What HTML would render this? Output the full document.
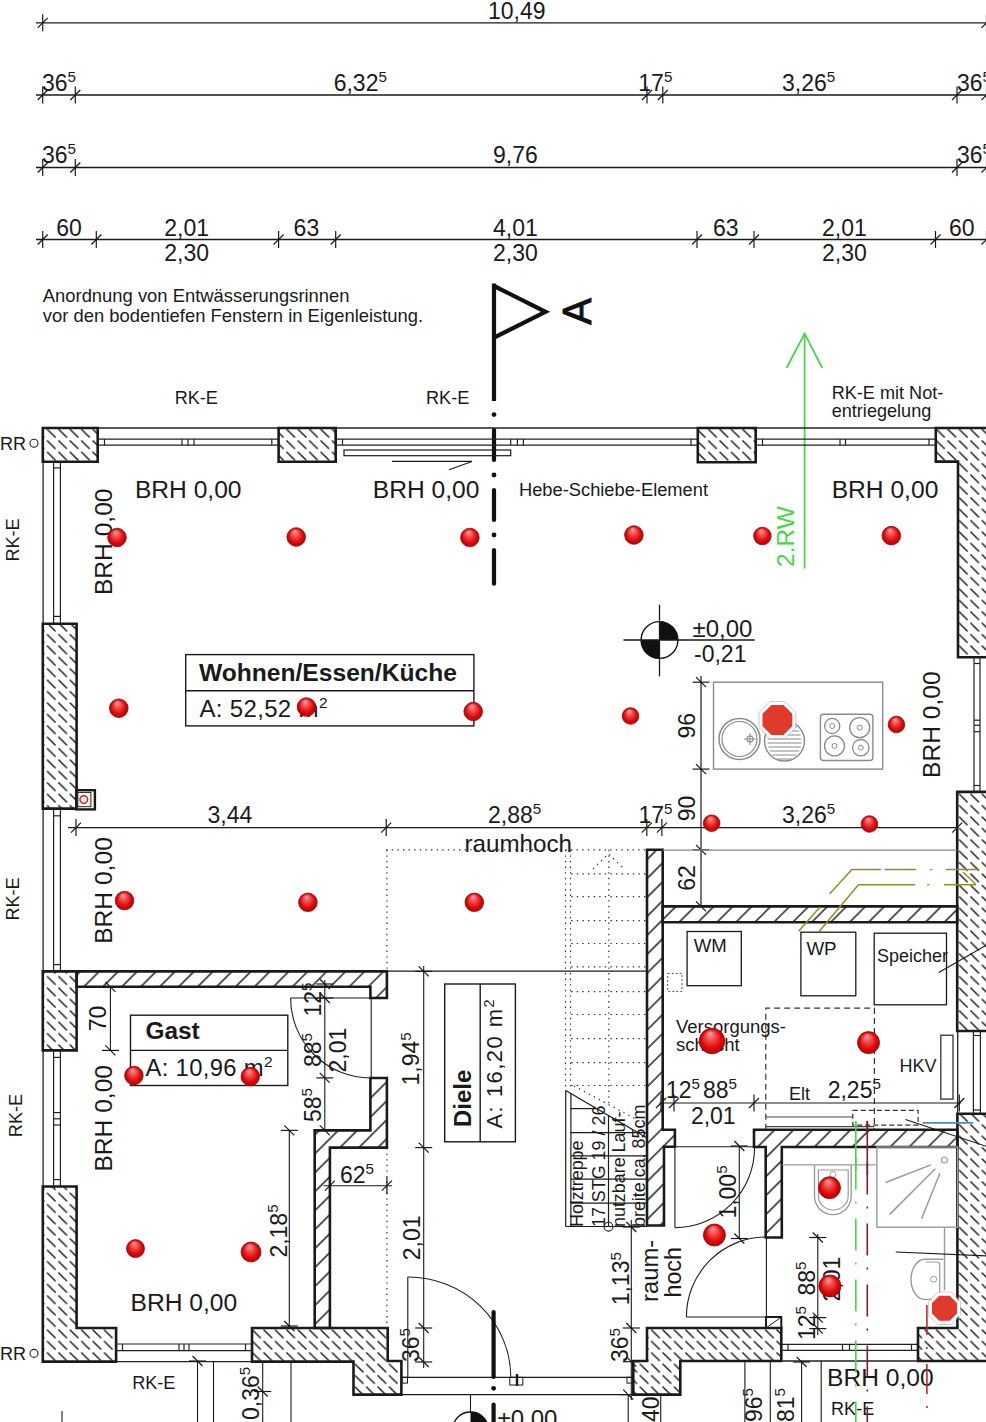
<!DOCTYPE html>
<html><head><meta charset="utf-8"><style>
html,body{margin:0;padding:0;background:#fff;width:986px;height:1422px;overflow:hidden}
svg{display:block}
text{font-family:"Liberation Sans",sans-serif}
</style></head><body>
<svg width="986" height="1422" viewBox="0 0 986 1422">
<defs>
<pattern id="hA" patternUnits="userSpaceOnUse" width="11.4" height="11.4" x="0" y="5.8">
<line x1="1.4" y1="1.4" x2="10" y2="10" stroke="#1a1a1a" stroke-width="1.45"/></pattern>
<pattern id="hB" patternUnits="userSpaceOnUse" width="13.4" height="20" patternTransform="rotate(45)">
<line x1="6.7" y1="0" x2="6.7" y2="20" stroke="#1a1a1a" stroke-width="1.45"/></pattern>
<radialGradient id="rg" cx="0.5" cy="0.5" r="0.5" fx="0.42" fy="0.18">
<stop offset="0" stop-color="#f7a3aa"/><stop offset="0.4" stop-color="#f04848"/><stop offset="0.75" stop-color="#e00808"/><stop offset="1" stop-color="#b80000"/></radialGradient>
</defs>
<line x1="36" y1="22.8" x2="990" y2="22.8" stroke="#1a1a1a" stroke-width="1.3" />
<line x1="36" y1="95" x2="990" y2="95" stroke="#1a1a1a" stroke-width="1.3" />
<line x1="36" y1="167.5" x2="990" y2="167.5" stroke="#1a1a1a" stroke-width="1.3" />
<line x1="36" y1="239.5" x2="990" y2="239.5" stroke="#1a1a1a" stroke-width="1.3" />
<line x1="42.7" y1="14.3" x2="42.7" y2="31.3" stroke="#1a1a1a" stroke-width="1.2" />
<line x1="37.7" y1="27.8" x2="47.7" y2="17.8" stroke="#1a1a1a" stroke-width="1.2" />
<text x="488" y="18.5" font-size="23" text-anchor="start" font-weight="normal" fill="#1a1a1a" >10,49</text>
<line x1="42.7" y1="86.5" x2="42.7" y2="103.5" stroke="#1a1a1a" stroke-width="1.2" />
<line x1="37.7" y1="100" x2="47.7" y2="90" stroke="#1a1a1a" stroke-width="1.2" />
<line x1="75.3" y1="86.5" x2="75.3" y2="103.5" stroke="#1a1a1a" stroke-width="1.2" />
<line x1="70.3" y1="100" x2="80.3" y2="90" stroke="#1a1a1a" stroke-width="1.2" />
<line x1="647" y1="86.5" x2="647" y2="103.5" stroke="#1a1a1a" stroke-width="1.2" />
<line x1="642" y1="100" x2="652" y2="90" stroke="#1a1a1a" stroke-width="1.2" />
<line x1="662.8" y1="86.5" x2="662.8" y2="103.5" stroke="#1a1a1a" stroke-width="1.2" />
<line x1="657.8" y1="100" x2="667.8" y2="90" stroke="#1a1a1a" stroke-width="1.2" />
<line x1="957" y1="86.5" x2="957" y2="103.5" stroke="#1a1a1a" stroke-width="1.2" />
<line x1="952" y1="100" x2="962" y2="90" stroke="#1a1a1a" stroke-width="1.2" />
<text x="42" y="90.7" font-size="23" text-anchor="start" font-weight="normal" fill="#1a1a1a" >36<tspan font-size="15.2" dy="-8.7">5</tspan></text>
<text x="333.7" y="90.7" font-size="23" text-anchor="start" font-weight="normal" fill="#1a1a1a" >6,32<tspan font-size="15.2" dy="-8.7">5</tspan></text>
<text x="638.3" y="90.7" font-size="23" text-anchor="start" font-weight="normal" fill="#1a1a1a" >17<tspan font-size="15.2" dy="-8.7">5</tspan></text>
<text x="782" y="90.7" font-size="23" text-anchor="start" font-weight="normal" fill="#1a1a1a" >3,26<tspan font-size="15.2" dy="-8.7">5</tspan></text>
<text x="957" y="90.7" font-size="23" text-anchor="start" font-weight="normal" fill="#1a1a1a" >36<tspan font-size="15.2" dy="-8.7">5</tspan></text>
<line x1="42.7" y1="159.0" x2="42.7" y2="176.0" stroke="#1a1a1a" stroke-width="1.2" />
<line x1="37.7" y1="172.5" x2="47.7" y2="162.5" stroke="#1a1a1a" stroke-width="1.2" />
<line x1="75.3" y1="159.0" x2="75.3" y2="176.0" stroke="#1a1a1a" stroke-width="1.2" />
<line x1="70.3" y1="172.5" x2="80.3" y2="162.5" stroke="#1a1a1a" stroke-width="1.2" />
<line x1="957" y1="159.0" x2="957" y2="176.0" stroke="#1a1a1a" stroke-width="1.2" />
<line x1="952" y1="172.5" x2="962" y2="162.5" stroke="#1a1a1a" stroke-width="1.2" />
<text x="42" y="163" font-size="23" text-anchor="start" font-weight="normal" fill="#1a1a1a" >36<tspan font-size="15.2" dy="-8.7">5</tspan></text>
<text x="493" y="163" font-size="23" text-anchor="start" font-weight="normal" fill="#1a1a1a" >9,76</text>
<text x="957" y="163" font-size="23" text-anchor="start" font-weight="normal" fill="#1a1a1a" >36<tspan font-size="15.2" dy="-8.7">5</tspan></text>
<line x1="42.7" y1="231.0" x2="42.7" y2="248.0" stroke="#1a1a1a" stroke-width="1.2" />
<line x1="37.7" y1="244.5" x2="47.7" y2="234.5" stroke="#1a1a1a" stroke-width="1.2" />
<line x1="96.3" y1="231.0" x2="96.3" y2="248.0" stroke="#1a1a1a" stroke-width="1.2" />
<line x1="91.3" y1="244.5" x2="101.3" y2="234.5" stroke="#1a1a1a" stroke-width="1.2" />
<line x1="278.6" y1="231.0" x2="278.6" y2="248.0" stroke="#1a1a1a" stroke-width="1.2" />
<line x1="273.6" y1="244.5" x2="283.6" y2="234.5" stroke="#1a1a1a" stroke-width="1.2" />
<line x1="335.7" y1="231.0" x2="335.7" y2="248.0" stroke="#1a1a1a" stroke-width="1.2" />
<line x1="330.7" y1="244.5" x2="340.7" y2="234.5" stroke="#1a1a1a" stroke-width="1.2" />
<line x1="697" y1="231.0" x2="697" y2="248.0" stroke="#1a1a1a" stroke-width="1.2" />
<line x1="692" y1="244.5" x2="702" y2="234.5" stroke="#1a1a1a" stroke-width="1.2" />
<line x1="754" y1="231.0" x2="754" y2="248.0" stroke="#1a1a1a" stroke-width="1.2" />
<line x1="749" y1="244.5" x2="759" y2="234.5" stroke="#1a1a1a" stroke-width="1.2" />
<line x1="935.5" y1="231.0" x2="935.5" y2="248.0" stroke="#1a1a1a" stroke-width="1.2" />
<line x1="930.5" y1="244.5" x2="940.5" y2="234.5" stroke="#1a1a1a" stroke-width="1.2" />
<text x="56.3" y="236.3" font-size="23" text-anchor="start" font-weight="normal" fill="#1a1a1a" >60</text>
<text x="164.3" y="236.3" font-size="23" text-anchor="start" font-weight="normal" fill="#1a1a1a" >2,01</text>
<text x="293.6" y="236.3" font-size="23" text-anchor="start" font-weight="normal" fill="#1a1a1a" >63</text>
<text x="493" y="236.3" font-size="23" text-anchor="start" font-weight="normal" fill="#1a1a1a" >4,01</text>
<text x="713" y="236.3" font-size="23" text-anchor="start" font-weight="normal" fill="#1a1a1a" >63</text>
<text x="822" y="236.3" font-size="23" text-anchor="start" font-weight="normal" fill="#1a1a1a" >2,01</text>
<text x="949" y="236.3" font-size="23" text-anchor="start" font-weight="normal" fill="#1a1a1a" >60</text>
<text x="164.3" y="260.8" font-size="23" text-anchor="start" font-weight="normal" fill="#1a1a1a" >2,30</text>
<text x="493" y="260.8" font-size="23" text-anchor="start" font-weight="normal" fill="#1a1a1a" >2,30</text>
<text x="822" y="260.8" font-size="23" text-anchor="start" font-weight="normal" fill="#1a1a1a" >2,30</text>
<line x1="986.5" y1="14.3" x2="986.5" y2="31.3" stroke="#1a1a1a" stroke-width="1.2" />
<line x1="981.5" y1="27.8" x2="991.5" y2="17.8" stroke="#1a1a1a" stroke-width="1.2" />
<line x1="986.5" y1="86.5" x2="986.5" y2="103.5" stroke="#1a1a1a" stroke-width="1.2" />
<line x1="981.5" y1="100" x2="991.5" y2="90" stroke="#1a1a1a" stroke-width="1.2" />
<line x1="986.5" y1="159.0" x2="986.5" y2="176.0" stroke="#1a1a1a" stroke-width="1.2" />
<line x1="981.5" y1="172.5" x2="991.5" y2="162.5" stroke="#1a1a1a" stroke-width="1.2" />
<line x1="986.5" y1="231.0" x2="986.5" y2="248.0" stroke="#1a1a1a" stroke-width="1.2" />
<line x1="981.5" y1="244.5" x2="991.5" y2="234.5" stroke="#1a1a1a" stroke-width="1.2" />
<text x="42.8" y="301.8" font-size="18.4" text-anchor="start" font-weight="normal" fill="#1a1a1a" >Anordnung von Entw&#228;sserungsrinnen</text>
<text x="42.8" y="321.9" font-size="18.4" text-anchor="start" font-weight="normal" fill="#1a1a1a" >vor den bodentiefen Fenstern in Eigenleistung.</text>
<text x="174.7" y="404" font-size="18.1" text-anchor="start" font-weight="normal" fill="#1a1a1a" >RK-E</text>
<text x="426" y="404" font-size="18.1" text-anchor="start" font-weight="normal" fill="#1a1a1a" >RK-E</text>
<text x="831.7" y="398.8" font-size="18.1" text-anchor="start" font-weight="normal" fill="#1a1a1a" >RK-E mit Not-</text>
<text x="831.7" y="417" font-size="18.1" text-anchor="start" font-weight="normal" fill="#1a1a1a" >entriegelung</text>
<path d="M494,286 L545.5,311.8 L494,337.6" fill="none" stroke="#111" stroke-width="4.2" stroke-linejoin="miter"/>
<line x1="494" y1="283.5" x2="494" y2="401" stroke="#111" stroke-width="4.2" stroke-linecap="butt"/>
<circle cx="494" cy="414.6" r="2.4" fill="#111"/>
<line x1="494" y1="430" x2="494" y2="460" stroke="#111" stroke-width="4.2" stroke-linecap="round"/>
<circle cx="494" cy="475" r="2.4" fill="#111"/>
<line x1="494" y1="490" x2="494" y2="520" stroke="#111" stroke-width="4.2" stroke-linecap="round"/>
<circle cx="494" cy="535" r="2.4" fill="#111"/>
<line x1="494" y1="550" x2="494" y2="583.7" stroke="#111" stroke-width="4.2" stroke-linecap="round"/>
<text x="577" y="311.5" font-size="40" text-anchor="middle" font-weight="normal" fill="#111" transform="rotate(-90 577 311.5)" dominant-baseline="central" stroke="#111" stroke-width="0.9">A</text>
<line x1="804.6" y1="333.6" x2="804.6" y2="568.6" stroke="#48d648" stroke-width="1.8" />
<polyline points="786.5,368 804.6,333.6 822.3,368" fill="none" stroke="#48d648" stroke-width="1.8" />
<text x="793.5" y="536.5" font-size="24.5" text-anchor="middle" font-weight="normal" fill="#48d648" transform="rotate(-90 793.5 536.5)" >2.RW</text>
<polygon points="42.8,428 97.7,428 97.7,461.8 42.8,461.8" fill="url(#hA)" stroke="#1a1a1a" stroke-width="2.6" stroke-linejoin="miter"/>
<polygon points="278.6,428 335.7,428 335.7,461.8 278.6,461.8" fill="url(#hA)" stroke="#1a1a1a" stroke-width="2.6" stroke-linejoin="miter"/>
<polygon points="697.8,428 755.7,428 755.7,462.2 697.8,462.2" fill="url(#hA)" stroke="#1a1a1a" stroke-width="2.6" stroke-linejoin="miter"/>
<polygon points="935.8,428 992,428 992,657.3 958,657.3 958,461.6 935.8,461.6" fill="url(#hA)" stroke="#1a1a1a" stroke-width="2.6" stroke-linejoin="miter"/>
<polygon points="42.8,623.8 76.6,623.8 76.6,808.6 42.8,808.6" fill="url(#hA)" stroke="#1a1a1a" stroke-width="2.6" stroke-linejoin="miter"/>
<polygon points="42.8,971.4 76.6,971.4 76.6,1050.4 42.8,1050.4" fill="url(#hA)" stroke="#1a1a1a" stroke-width="2.6" stroke-linejoin="miter"/>
<polygon points="42.8,1186.5 76.6,1186.5 76.6,1328 116.1,1328 116.1,1361.6 42.8,1361.6" fill="url(#hA)" stroke="#1a1a1a" stroke-width="2.6" stroke-linejoin="miter"/>
<polygon points="252,1328 387.7,1328 387.7,1361 401.4,1361 401.4,1394.6 353.5,1394.6 353.5,1361.6 252,1361.6" fill="url(#hA)" stroke="#1a1a1a" stroke-width="2.6" stroke-linejoin="miter"/>
<polygon points="647,1328 781.3,1328 781.3,1361 680.3,1361 680.3,1394.6 633.3,1394.6 633.3,1361 647,1361" fill="url(#hA)" stroke="#1a1a1a" stroke-width="2.6" stroke-linejoin="miter"/>
<polygon points="957.4,1113.8 992,1113.8 992,1361 918,1361 918,1328 957.4,1328" fill="url(#hA)" stroke="#1a1a1a" stroke-width="2.6" stroke-linejoin="miter"/>
<polygon points="957.2,791.9 992,791.9 992,1031 957.2,1031" fill="url(#hA)" stroke="#1a1a1a" stroke-width="2.6" stroke-linejoin="miter"/>
<rect x="76.3" y="790.2" width="18.6" height="19.2" fill="none" stroke="#1a1a1a" stroke-width="2.4" />
<rect x="77.8" y="792.4" width="13.1" height="14.3" fill="#fff0f0" stroke="#222" stroke-width="1.0"/>
<circle cx="83.8" cy="799.5" r="3.8" fill="#ffe8e0" stroke="#a03038" stroke-width="1.4"/>
<polygon points="76.6,971.4 386.9,971.4 386.9,998 370.4,998 370.4,986.8 76.6,986.8" fill="url(#hB)" stroke="#1a1a1a" stroke-width="2.6" stroke-linejoin="miter"/>
<polygon points="370.4,1078 386.9,1078 386.9,1147.6 329.9,1147.6 329.9,1328 314.7,1328 314.7,1130.4 370.4,1130.4" fill="url(#hB)" stroke="#1a1a1a" stroke-width="2.6" stroke-linejoin="miter"/>
<polygon points="647,849.8 662.7,849.8 662.7,1129.8 674.9,1129.8 674.9,1146.8 664,1146.8 664,1225.5 647,1225.5" fill="url(#hB)" stroke="#1a1a1a" stroke-width="2.6" stroke-linejoin="miter"/>
<polygon points="662.7,906.4 957.2,906.4 957.2,922.2 662.7,922.2" fill="url(#hB)" stroke="#1a1a1a" stroke-width="2.6" stroke-linejoin="miter"/>
<polygon points="754,1129.8 957.4,1129.8 957.4,1147 781.8,1147 781.8,1237.5 765.7,1237.5 765.7,1147 754,1147" fill="url(#hB)" stroke="#1a1a1a" stroke-width="2.6" stroke-linejoin="miter"/>
<rect x="766" y="1317" width="15.3" height="11" fill="none" stroke="#1a1a1a" stroke-width="2.0" />
<line x1="766" y1="1328" x2="781.3" y2="1317" stroke="#1a1a1a" stroke-width="1.0" />
<line x1="97.7" y1="428" x2="278.6" y2="428" stroke="#222" stroke-width="1.3" />
<line x1="97.7" y1="439.1" x2="278.6" y2="439.1" stroke="#222" stroke-width="1.2" />
<line x1="97.7" y1="445.2" x2="278.6" y2="445.2" stroke="#222" stroke-width="1.2" />
<line x1="104.5" y1="439.1" x2="104.5" y2="445.2" stroke="#222" stroke-width="1.2" />
<line x1="182" y1="439.1" x2="182" y2="445.2" stroke="#222" stroke-width="1.2" />
<line x1="188" y1="439.1" x2="188" y2="445.2" stroke="#222" stroke-width="1.2" />
<line x1="194" y1="439.1" x2="194" y2="445.2" stroke="#222" stroke-width="1.2" />
<line x1="271.8" y1="439.1" x2="271.8" y2="445.2" stroke="#222" stroke-width="1.2" />
<line x1="335.7" y1="428" x2="697.8" y2="428" stroke="#222" stroke-width="1.3" />
<line x1="335.7" y1="439.1" x2="697.8" y2="439.1" stroke="#222" stroke-width="1.2" />
<line x1="335.7" y1="445.2" x2="697.8" y2="445.2" stroke="#222" stroke-width="1.2" />
<line x1="342.5" y1="439.1" x2="342.5" y2="445.2" stroke="#222" stroke-width="1.2" />
<line x1="510.7" y1="439.1" x2="510.7" y2="445.2" stroke="#222" stroke-width="1.2" />
<line x1="517.4" y1="439.1" x2="517.4" y2="445.2" stroke="#222" stroke-width="1.2" />
<line x1="523.4" y1="439.1" x2="523.4" y2="445.2" stroke="#222" stroke-width="1.2" />
<line x1="691" y1="439.1" x2="691" y2="445.2" stroke="#222" stroke-width="1.2" />
<line x1="755.7" y1="428" x2="935.8" y2="428" stroke="#222" stroke-width="1.3" />
<line x1="755.7" y1="439.1" x2="935.8" y2="439.1" stroke="#222" stroke-width="1.2" />
<line x1="755.7" y1="445.2" x2="935.8" y2="445.2" stroke="#222" stroke-width="1.2" />
<line x1="762.5" y1="439.1" x2="762.5" y2="445.2" stroke="#222" stroke-width="1.2" />
<line x1="840" y1="439.1" x2="840" y2="445.2" stroke="#222" stroke-width="1.2" />
<line x1="845.5" y1="439.1" x2="845.5" y2="445.2" stroke="#222" stroke-width="1.2" />
<line x1="929" y1="439.1" x2="929" y2="445.2" stroke="#222" stroke-width="1.2" />
<line x1="43.1" y1="461.8" x2="43.1" y2="623.8" stroke="#222" stroke-width="1.3" />
<line x1="53.6" y1="461.8" x2="53.6" y2="623.8" stroke="#222" stroke-width="1.2" />
<line x1="60.4" y1="461.8" x2="60.4" y2="623.8" stroke="#222" stroke-width="1.2" />
<line x1="53.6" y1="467.9" x2="60.4" y2="467.9" stroke="#222" stroke-width="1.2" />
<line x1="53.6" y1="616.4" x2="60.4" y2="616.4" stroke="#222" stroke-width="1.2" />
<line x1="43.1" y1="808.6" x2="43.1" y2="971.4" stroke="#222" stroke-width="1.3" />
<line x1="53.6" y1="808.6" x2="53.6" y2="971.4" stroke="#222" stroke-width="1.2" />
<line x1="60.4" y1="808.6" x2="60.4" y2="971.4" stroke="#222" stroke-width="1.2" />
<line x1="53.6" y1="815.8" x2="60.4" y2="815.8" stroke="#222" stroke-width="1.2" />
<line x1="53.6" y1="964.6" x2="60.4" y2="964.6" stroke="#222" stroke-width="1.2" />
<line x1="43.1" y1="1050.4" x2="43.1" y2="1186.5" stroke="#222" stroke-width="1.3" />
<line x1="53.6" y1="1050.4" x2="53.6" y2="1186.5" stroke="#222" stroke-width="1.2" />
<line x1="60.4" y1="1050.4" x2="60.4" y2="1186.5" stroke="#222" stroke-width="1.2" />
<line x1="53.6" y1="1057.4" x2="60.4" y2="1057.4" stroke="#222" stroke-width="1.2" />
<line x1="53.6" y1="1112.6" x2="60.4" y2="1112.6" stroke="#222" stroke-width="1.2" />
<line x1="53.6" y1="1118.8" x2="60.4" y2="1118.8" stroke="#222" stroke-width="1.2" />
<line x1="53.6" y1="1125" x2="60.4" y2="1125" stroke="#222" stroke-width="1.2" />
<line x1="53.6" y1="1179.6" x2="60.4" y2="1179.6" stroke="#222" stroke-width="1.2" />
<line x1="116.1" y1="1361.6" x2="252" y2="1361.6" stroke="#222" stroke-width="1.3" />
<line x1="116.1" y1="1344" x2="252" y2="1344" stroke="#222" stroke-width="1.2" />
<line x1="116.1" y1="1350.7" x2="252" y2="1350.7" stroke="#222" stroke-width="1.2" />
<line x1="122.5" y1="1344" x2="122.5" y2="1350.7" stroke="#222" stroke-width="1.2" />
<line x1="179" y1="1344" x2="179" y2="1350.7" stroke="#222" stroke-width="1.2" />
<line x1="184" y1="1344" x2="184" y2="1350.7" stroke="#222" stroke-width="1.2" />
<line x1="189" y1="1344" x2="189" y2="1350.7" stroke="#222" stroke-width="1.2" />
<line x1="245.5" y1="1344" x2="245.5" y2="1350.7" stroke="#222" stroke-width="1.2" />
<line x1="781.3" y1="1361" x2="918" y2="1361" stroke="#222" stroke-width="1.3" />
<line x1="781.3" y1="1344.4" x2="918" y2="1344.4" stroke="#222" stroke-width="1.2" />
<line x1="781.3" y1="1350.3" x2="918" y2="1350.3" stroke="#222" stroke-width="1.2" />
<line x1="788" y1="1344.4" x2="788" y2="1350.3" stroke="#222" stroke-width="1.2" />
<line x1="842.5" y1="1344.4" x2="842.5" y2="1350.3" stroke="#222" stroke-width="1.2" />
<line x1="849.5" y1="1344.4" x2="849.5" y2="1350.3" stroke="#222" stroke-width="1.2" />
<line x1="911.5" y1="1344.4" x2="911.5" y2="1350.3" stroke="#222" stroke-width="1.2" />
<line x1="974" y1="657.3" x2="974" y2="791.9" stroke="#222" stroke-width="1.2" />
<line x1="980" y1="657.3" x2="980" y2="791.9" stroke="#222" stroke-width="1.2" />
<line x1="974" y1="663.5" x2="980" y2="663.5" stroke="#222" stroke-width="1.2" />
<line x1="974" y1="720.2" x2="980" y2="720.2" stroke="#222" stroke-width="1.2" />
<line x1="974" y1="725.3" x2="980" y2="725.3" stroke="#222" stroke-width="1.2" />
<line x1="974" y1="731.7" x2="980" y2="731.7" stroke="#222" stroke-width="1.2" />
<line x1="974" y1="785.5" x2="980" y2="785.5" stroke="#222" stroke-width="1.2" />
<line x1="957.7" y1="1031" x2="957.7" y2="1113.8" stroke="#222" stroke-width="1.3" />
<line x1="973.4" y1="1031" x2="973.4" y2="1113.8" stroke="#222" stroke-width="1.2" />
<line x1="980.4" y1="1031" x2="980.4" y2="1113.8" stroke="#222" stroke-width="1.2" />
<line x1="973.4" y1="1035.5" x2="980.4" y2="1035.5" stroke="#222" stroke-width="1.2" />
<line x1="973.4" y1="1110" x2="980.4" y2="1110" stroke="#222" stroke-width="1.2" />
<rect x="344" y="450" width="166.7" height="5.7" fill="none" stroke="#1a1a1a" stroke-width="1.2" />
<line x1="392" y1="461.4" x2="472" y2="461.4" stroke="#1a1a1a" stroke-width="1.1" />
<line x1="472" y1="461.4" x2="449" y2="469.8" stroke="#1a1a1a" stroke-width="1.1" />
<text x="0" y="449.5" font-size="18.1" text-anchor="start" font-weight="normal" fill="#1a1a1a" >RR</text>
<circle cx="34" cy="443.2" r="4" fill="none" stroke="#222" stroke-width="1.1"/>
<text x="0" y="1359.5" font-size="18.1" text-anchor="start" font-weight="normal" fill="#1a1a1a" >RR</text>
<circle cx="34" cy="1353.4" r="4" fill="none" stroke="#222" stroke-width="1.1"/>
<text x="19" y="540" font-size="18.1" text-anchor="middle" font-weight="normal" fill="#1a1a1a" transform="rotate(-90 19 540)" >RK-E</text>
<text x="19" y="899" font-size="18.1" text-anchor="middle" font-weight="normal" fill="#1a1a1a" transform="rotate(-90 19 899)" >RK-E</text>
<text x="22" y="1115.5" font-size="18.1" text-anchor="middle" font-weight="normal" fill="#1a1a1a" transform="rotate(-90 22 1115.5)" >RK-E</text>
<text x="132.2" y="1389.2" font-size="18.1" text-anchor="start" font-weight="normal" fill="#1a1a1a" >RK-E</text>
<text x="831" y="1415" font-size="18.1" text-anchor="start" font-weight="normal" fill="#1a1a1a" >RK-E</text>
<text x="134.9" y="497.6" font-size="24.6" text-anchor="start" font-weight="normal" fill="#1a1a1a" >BRH 0,00</text>
<text x="372.8" y="497.6" font-size="24.6" text-anchor="start" font-weight="normal" fill="#1a1a1a" >BRH 0,00</text>
<text x="831.7" y="497.6" font-size="24.6" text-anchor="start" font-weight="normal" fill="#1a1a1a" >BRH 0,00</text>
<text x="519" y="496" font-size="18.3" text-anchor="start" font-weight="normal" fill="#1a1a1a" >Hebe-Schiebe-Element</text>
<text x="111.8" y="541.8" font-size="24.6" text-anchor="middle" font-weight="normal" fill="#1a1a1a" transform="rotate(-90 111.8 541.8)" >BRH 0,00</text>
<text x="111.8" y="890.5" font-size="24.6" text-anchor="middle" font-weight="normal" fill="#1a1a1a" transform="rotate(-90 111.8 890.5)" >BRH 0,00</text>
<text x="111.8" y="1118.3" font-size="24.6" text-anchor="middle" font-weight="normal" fill="#1a1a1a" transform="rotate(-90 111.8 1118.3)" >BRH 0,00</text>
<text x="940" y="724.7" font-size="24.6" text-anchor="middle" font-weight="normal" fill="#1a1a1a" transform="rotate(-90 940 724.7)" >BRH 0,00</text>
<text x="130.5" y="1310.5" font-size="24.6" text-anchor="start" font-weight="normal" fill="#1a1a1a" >BRH 0,00</text>
<text x="827" y="1385.6" font-size="24.6" text-anchor="start" font-weight="normal" fill="#1a1a1a" >BRH 0,00</text>
<rect x="185.7" y="654.6" width="288.2" height="71.3" fill="none" stroke="#1a1a1a" stroke-width="1.4" />
<line x1="185.7" y1="690.8" x2="473.9" y2="690.8" stroke="#1a1a1a" stroke-width="1.4" />
<text x="199" y="681" font-size="24.6" text-anchor="start" font-weight="bold" fill="#1a1a1a" >Wohnen/Essen/K&#252;che</text>
<text x="199.5" y="716.5" font-size="24" text-anchor="start" font-weight="normal" fill="#1a1a1a" textLength="128" lengthAdjust="spacing">A: 52,52 m<tspan font-size="15.5" dy="-8.5">2</tspan></text>
<rect x="130.5" y="1015.2" width="157.3" height="70.3" fill="none" stroke="#1a1a1a" stroke-width="1.4" />
<line x1="130.5" y1="1050.4" x2="287.8" y2="1050.4" stroke="#1a1a1a" stroke-width="1.4" />
<text x="145.5" y="1039" font-size="24.4" text-anchor="start" font-weight="bold" fill="#1a1a1a" >Gast</text>
<text x="145.5" y="1075.5" font-size="23.8" text-anchor="start" font-weight="normal" fill="#1a1a1a" textLength="127" lengthAdjust="spacing">A: 10,96 m<tspan font-size="15.5" dy="-8.5">2</tspan></text>
<rect x="444.7" y="984" width="70.7" height="157.8" fill="none" stroke="#1a1a1a" stroke-width="1.4" />
<line x1="480.2" y1="984" x2="480.2" y2="1141.8" stroke="#1a1a1a" stroke-width="1.4" />
<text x="470.5" y="1127" font-size="24" text-anchor="start" font-weight="bold" fill="#1a1a1a" transform="rotate(-90 470.5 1127)" >Diele</text>
<text x="502" y="1128.5" font-size="22" text-anchor="start" font-weight="normal" fill="#1a1a1a" transform="rotate(-90 502 1128.5)" textLength="129" lengthAdjust="spacing">A: 16,20 m<tspan font-size="14.5" dy="-8">2</tspan></text>
<circle cx="659.5" cy="640" r="18.4" fill="#fff" stroke="#111" stroke-width="1.4"/>
<path d="M659.5,640 L659.5,621.6 A18.4,18.4 0 0 1 677.9,640 Z" fill="#111"/>
<path d="M659.5,640 L659.5,658.4 A18.4,18.4 0 0 1 641.1,640 Z" fill="#111"/>
<line x1="623.5" y1="640" x2="754.7" y2="640" stroke="#1a1a1a" stroke-width="1.3" />
<line x1="659.5" y1="604.7" x2="659.5" y2="676.3" stroke="#1a1a1a" stroke-width="1.3" />
<text x="692.5" y="636.8" font-size="24" text-anchor="start" font-weight="normal" fill="#1a1a1a" >&#177;0,00</text>
<text x="694" y="662.3" font-size="23" text-anchor="start" font-weight="normal" fill="#1a1a1a" >-0,21</text>
<rect x="713.5" y="682.2" width="169.2" height="86.9" fill="none" stroke="#8a8a8a" stroke-width="1.4" />
<circle cx="739.5" cy="739" r="20.5" fill="none" stroke="#8a8a8a" stroke-width="1.5"/>
<circle cx="739.5" cy="739" r="17.5" fill="none" stroke="#8a8a8a" stroke-width="1.2"/>
<circle cx="750" cy="739" r="3" fill="none" stroke="#8a8a8a" stroke-width="1.1"/>
<line x1="744" y1="739" x2="756" y2="739" stroke="#8a8a8a" stroke-width="1.0" />
<line x1="750" y1="733" x2="750" y2="745" stroke="#8a8a8a" stroke-width="1.0" />
<circle cx="784.5" cy="741" r="20" fill="none" stroke="#8a8a8a" stroke-width="1.4"/>
<line x1="772.3595716714772" y1="727" x2="796.6404283285228" y2="727" stroke="#8a8a8a" stroke-width="1.0" />
<line x1="769.7775681356645" y1="731" x2="799.2224318643355" y2="731" stroke="#8a8a8a" stroke-width="1.0" />
<line x1="768.2830335759119" y1="735" x2="800.7169664240881" y2="735" stroke="#8a8a8a" stroke-width="1.0" />
<line x1="767.5852135691874" y1="739" x2="801.4147864308126" y2="739" stroke="#8a8a8a" stroke-width="1.0" />
<line x1="767.5852135691874" y1="743" x2="801.4147864308126" y2="743" stroke="#8a8a8a" stroke-width="1.0" />
<line x1="768.2830335759119" y1="747" x2="800.7169664240881" y2="747" stroke="#8a8a8a" stroke-width="1.0" />
<line x1="769.7775681356645" y1="751" x2="799.2224318643355" y2="751" stroke="#8a8a8a" stroke-width="1.0" />
<line x1="772.3595716714772" y1="755" x2="796.6404283285228" y2="755" stroke="#8a8a8a" stroke-width="1.0" />
<line x1="777.0898717959808" y1="759" x2="791.9101282040192" y2="759" stroke="#8a8a8a" stroke-width="1.0" />
<path d="M770.6,703.6 L784.2,703.6 L793.8,713.2 L793.8,726.8 L784.2,736.4 L770.6,736.4 L761,726.8 L761,713.2 Z" fill="#e03a2c" stroke="#fff" stroke-width="3"/>
<path d="M769.8,701.6 L785,701.6 L795.8,712.4 L795.8,727.6 L785,738.4 L769.8,738.4 L759,727.6 L759,712.4 Z" fill="none" stroke="#bbb" stroke-width="0.8"/>
<rect x="820.4" y="714.3" width="52.5" height="46.2" fill="none" stroke="#8a8a8a" stroke-width="1.4" rx="3"/>
<circle cx="832.2" cy="726" r="7.6" fill="none" stroke="#8a8a8a" stroke-width="1.3"/>
<circle cx="832.2" cy="726" r="2.5" fill="none" stroke="#8a8a8a" stroke-width="1"/>
<circle cx="859.7" cy="727.6" r="10" fill="none" stroke="#8a8a8a" stroke-width="1.3"/>
<circle cx="859.7" cy="727.6" r="2.5" fill="none" stroke="#8a8a8a" stroke-width="1"/>
<circle cx="834.5" cy="745.9" r="10" fill="none" stroke="#8a8a8a" stroke-width="1.3"/>
<circle cx="834.5" cy="745.9" r="2.5" fill="none" stroke="#8a8a8a" stroke-width="1"/>
<circle cx="860.8" cy="747.7" r="8.2" fill="none" stroke="#8a8a8a" stroke-width="1.3"/>
<circle cx="860.8" cy="747.7" r="2.5" fill="none" stroke="#8a8a8a" stroke-width="1"/>
<line x1="701" y1="676" x2="701" y2="906" stroke="#1a1a1a" stroke-width="1.2" />
<line x1="692.5" y1="682.2" x2="709.5" y2="682.2" stroke="#1a1a1a" stroke-width="1.2" />
<line x1="696" y1="677.2" x2="706" y2="687.2" stroke="#1a1a1a" stroke-width="1.2" />
<line x1="692.5" y1="769.1" x2="709.5" y2="769.1" stroke="#1a1a1a" stroke-width="1.2" />
<line x1="696" y1="764.1" x2="706" y2="774.1" stroke="#1a1a1a" stroke-width="1.2" />
<line x1="692.5" y1="849.8" x2="709.5" y2="849.8" stroke="#1a1a1a" stroke-width="1.2" />
<line x1="696" y1="844.8" x2="706" y2="854.8" stroke="#1a1a1a" stroke-width="1.2" />
<line x1="692.5" y1="906.4" x2="709.5" y2="906.4" stroke="#1a1a1a" stroke-width="1.2" />
<line x1="696" y1="901.4" x2="706" y2="911.4" stroke="#1a1a1a" stroke-width="1.2" />
<text x="695" y="725.7" font-size="23" text-anchor="middle" font-weight="normal" fill="#1a1a1a" transform="rotate(-90 695 725.7)" >96</text>
<text x="695" y="808.5" font-size="23" text-anchor="middle" font-weight="normal" fill="#1a1a1a" transform="rotate(-90 695 808.5)" >90</text>
<text x="695" y="878" font-size="23" text-anchor="middle" font-weight="normal" fill="#1a1a1a" transform="rotate(-90 695 878)" >62</text>
<line x1="68" y1="827.6" x2="958" y2="827.6" stroke="#1a1a1a" stroke-width="1.2" />
<line x1="76" y1="819.1" x2="76" y2="836.1" stroke="#1a1a1a" stroke-width="1.2" />
<line x1="71" y1="832.6" x2="81" y2="822.6" stroke="#1a1a1a" stroke-width="1.2" />
<line x1="386.2" y1="819.1" x2="386.2" y2="836.1" stroke="#1a1a1a" stroke-width="1.2" />
<line x1="381.2" y1="832.6" x2="391.2" y2="822.6" stroke="#1a1a1a" stroke-width="1.2" />
<line x1="646.8" y1="819.1" x2="646.8" y2="836.1" stroke="#1a1a1a" stroke-width="1.2" />
<line x1="641.8" y1="832.6" x2="651.8" y2="822.6" stroke="#1a1a1a" stroke-width="1.2" />
<line x1="661.9" y1="819.1" x2="661.9" y2="836.1" stroke="#1a1a1a" stroke-width="1.2" />
<line x1="656.9" y1="832.6" x2="666.9" y2="822.6" stroke="#1a1a1a" stroke-width="1.2" />
<line x1="957.2" y1="819.1" x2="957.2" y2="836.1" stroke="#1a1a1a" stroke-width="1.2" />
<line x1="952.2" y1="832.6" x2="962.2" y2="822.6" stroke="#1a1a1a" stroke-width="1.2" />
<text x="207.5" y="823" font-size="23" text-anchor="start" font-weight="normal" fill="#1a1a1a" >3,44</text>
<text x="488" y="823" font-size="23" text-anchor="start" font-weight="normal" fill="#1a1a1a" >2,88<tspan font-size="15.2" dy="-8.7">5</tspan></text>
<text x="638.5" y="823" font-size="23" text-anchor="start" font-weight="normal" fill="#1a1a1a" >17<tspan font-size="15.2" dy="-8.7">5</tspan></text>
<text x="782" y="823" font-size="23" text-anchor="start" font-weight="normal" fill="#1a1a1a" >3,26<tspan font-size="15.2" dy="-8.7">5</tspan></text>
<text x="464.5" y="852" font-size="24.2" text-anchor="start" font-weight="normal" fill="#1a1a1a" >raumhoch</text>
<line x1="662.7" y1="850.2" x2="957.2" y2="850.2" stroke="#888" stroke-width="1.2" />
<line x1="386.2" y1="849.8" x2="647" y2="849.8" stroke="#333" stroke-width="1.2" stroke-dasharray="1.4 4.2"/>
<line x1="386.9" y1="849.8" x2="386.9" y2="971" stroke="#333" stroke-width="1.2" stroke-dasharray="1.4 4.2"/>
<line x1="386.9" y1="1148" x2="386.9" y2="1328" stroke="#333" stroke-width="1.2" stroke-dasharray="1.4 4.2"/>
<line x1="565.5" y1="849.8" x2="565.5" y2="1090" stroke="#333" stroke-width="1.2" stroke-dasharray="1.4 4.2"/>
<line x1="570.5" y1="849.8" x2="570.5" y2="1090" stroke="#333" stroke-width="1.2" stroke-dasharray="1.4 4.2"/>
<line x1="608.8" y1="849.8" x2="608.8" y2="1104" stroke="#333" stroke-width="1.2" stroke-dasharray="1.4 4.2"/>
<line x1="574" y1="1086" x2="645" y2="1124" stroke="#333" stroke-width="1.2" stroke-dasharray="1.4 4.2"/>
<line x1="571.2" y1="873.9" x2="646" y2="873.9" stroke="#333" stroke-width="1.2" stroke-dasharray="1.4 4.2"/>
<line x1="571.2" y1="896.6" x2="646" y2="896.6" stroke="#333" stroke-width="1.2" stroke-dasharray="1.4 4.2"/>
<line x1="571.2" y1="920.7" x2="646" y2="920.7" stroke="#333" stroke-width="1.2" stroke-dasharray="1.4 4.2"/>
<line x1="571.2" y1="943.5" x2="646" y2="943.5" stroke="#333" stroke-width="1.2" stroke-dasharray="1.4 4.2"/>
<line x1="571.2" y1="966.9" x2="646" y2="966.9" stroke="#333" stroke-width="1.2" stroke-dasharray="1.4 4.2"/>
<line x1="571.2" y1="991.7" x2="646" y2="991.7" stroke="#333" stroke-width="1.2" stroke-dasharray="1.4 4.2"/>
<line x1="571.2" y1="1014.5" x2="646" y2="1014.5" stroke="#333" stroke-width="1.2" stroke-dasharray="1.4 4.2"/>
<line x1="571.2" y1="1038.6" x2="646" y2="1038.6" stroke="#333" stroke-width="1.2" stroke-dasharray="1.4 4.2"/>
<line x1="571.2" y1="1062.7" x2="646" y2="1062.7" stroke="#333" stroke-width="1.2" stroke-dasharray="1.4 4.2"/>
<line x1="571.2" y1="1085.5" x2="646" y2="1085.5" stroke="#333" stroke-width="1.2" stroke-dasharray="1.4 4.2"/>
<polyline points="593,868.8 608.4,853.8 624,868.8" fill="none" stroke="#333" stroke-width="1.2" stroke-dasharray="1.4 4.2"/>
<line x1="386.9" y1="971.2" x2="647" y2="971.2" stroke="#1a1a1a" stroke-width="1.2" />
<line x1="565.7" y1="1090.4" x2="565.7" y2="1226.5" stroke="#1a1a1a" stroke-width="1.2" />
<line x1="570.9" y1="1093.5" x2="570.9" y2="1226.5" stroke="#1a1a1a" stroke-width="1.2" />
<line x1="565.7" y1="1090.4" x2="647" y2="1138" stroke="#1a1a1a" stroke-width="1.2" />
<line x1="608.5" y1="1116" x2="608.5" y2="1226.5" stroke="#1a1a1a" stroke-width="1.2" />
<line x1="570.9" y1="1108.6" x2="597" y2="1108.6" stroke="#1a1a1a" stroke-width="1.2" />
<line x1="570.9" y1="1132.7" x2="647" y2="1132.7" stroke="#1a1a1a" stroke-width="1.2" />
<line x1="570.9" y1="1155.8" x2="647" y2="1155.8" stroke="#1a1a1a" stroke-width="1.2" />
<line x1="570.9" y1="1179.2" x2="647" y2="1179.2" stroke="#1a1a1a" stroke-width="1.2" />
<line x1="570.9" y1="1203.2" x2="647" y2="1203.2" stroke="#1a1a1a" stroke-width="1.2" />
<line x1="565.7" y1="1226.5" x2="647" y2="1226.5" stroke="#1a1a1a" stroke-width="1.2" />
<circle cx="608.5" cy="1226.7" r="4.4" fill="none" stroke="#222" stroke-width="1.1"/>
<text x="583" y="1227" font-size="17.9" text-anchor="start" font-weight="normal" fill="#1a1a1a" transform="rotate(-90 583 1227)" >Holztreppe</text>
<text x="604.5" y="1227" font-size="17.9" text-anchor="start" font-weight="normal" fill="#1a1a1a" transform="rotate(-90 604.5 1227)" >17 STG 19 / 26</text>
<text x="624.5" y="1227" font-size="17.9" text-anchor="start" font-weight="normal" fill="#1a1a1a" transform="rotate(-90 624.5 1227)" >nutzbare Lauf-</text>
<text x="645" y="1227" font-size="17.9" text-anchor="start" font-weight="normal" fill="#1a1a1a" transform="rotate(-90 645 1227)" >breite ca. 85cm</text>
<polyline points="798.6,931.2 820,907" fill="none" stroke="#8f8f20" stroke-width="1.5" />
<polyline points="829.8,893.7 851.8,869.6 881,869.6" fill="none" stroke="#8f8f20" stroke-width="1.5" />
<line x1="884.5" y1="869.6" x2="916.2" y2="869.6" stroke="#8f8f20" stroke-width="1.5" />
<line x1="930.2" y1="869.6" x2="932.2" y2="869.6" stroke="#8f8f20" stroke-width="1.5" />
<line x1="946" y1="869.6" x2="979" y2="869.6" stroke="#8f8f20" stroke-width="1.5" />
<polyline points="819.3,931.2 858.5,884.7 915.2,884.7" fill="none" stroke="#8f8f20" stroke-width="1.5" />
<line x1="927.2" y1="884.7" x2="929.2" y2="884.7" stroke="#8f8f20" stroke-width="1.5" />
<line x1="944" y1="884.7" x2="976" y2="884.7" stroke="#8f8f20" stroke-width="1.5" />
<line x1="963" y1="872" x2="976" y2="884.7" stroke="#8f8f20" stroke-width="1.3" />
<rect x="687.1" y="931.5" width="54.2" height="54.2" fill="none" stroke="#1a1a1a" stroke-width="1.3" />
<text x="693.8" y="951.5" font-size="18.6" text-anchor="start" font-weight="normal" fill="#1a1a1a" >WM</text>
<rect x="800.9" y="932.2" width="54.9" height="63.6" fill="none" stroke="#1a1a1a" stroke-width="1.3" />
<text x="806.4" y="954.8" font-size="18.8" text-anchor="start" font-weight="normal" fill="#1a1a1a" >WP</text>
<rect x="874.2" y="933.2" width="72.3" height="71.6" fill="none" stroke="#1a1a1a" stroke-width="1.3" />
<text x="876.9" y="962.3" font-size="18" text-anchor="start" font-weight="normal" fill="#1a1a1a" >Speicher</text>
<line x1="938.8" y1="972.4" x2="990" y2="943" stroke="#1a1a1a" stroke-width="1.1" />
<rect x="667.7" y="973.4" width="14.3" height="18" fill="none" stroke="#555" stroke-width="1.0" stroke-dasharray="2 2"/>
<polyline points="765.8,1129.8 765.8,1008.2 874.4,1008.2 874.4,1129.8" fill="none" stroke="#333" stroke-width="1.2" stroke-dasharray="6 4"/>
<text x="676" y="1032.6" font-size="18.5" text-anchor="start" font-weight="normal" fill="#1a1a1a" >Versorgungs-</text>
<text x="676" y="1051" font-size="18.5" text-anchor="start" font-weight="normal" fill="#1a1a1a" >schacht</text>
<text x="899.6" y="1072" font-size="18" text-anchor="start" font-weight="normal" fill="#1a1a1a" >HKV</text>
<rect x="940.8" y="1035.2" width="12.2" height="63.9" fill="none" stroke="#333" stroke-width="1.3" />
<line x1="659.3" y1="1103" x2="961" y2="1103" stroke="#1a1a1a" stroke-width="1.2" />
<line x1="661" y1="1094.5" x2="661" y2="1111.5" stroke="#1a1a1a" stroke-width="1.2" />
<line x1="656" y1="1108" x2="666" y2="1098" stroke="#1a1a1a" stroke-width="1.2" />
<line x1="674" y1="1094.5" x2="674" y2="1111.5" stroke="#1a1a1a" stroke-width="1.2" />
<line x1="669" y1="1108" x2="679" y2="1098" stroke="#1a1a1a" stroke-width="1.2" />
<line x1="754" y1="1094.5" x2="754" y2="1111.5" stroke="#1a1a1a" stroke-width="1.2" />
<line x1="749" y1="1108" x2="759" y2="1098" stroke="#1a1a1a" stroke-width="1.2" />
<line x1="959.3" y1="1094.5" x2="959.3" y2="1111.5" stroke="#1a1a1a" stroke-width="1.2" />
<line x1="954.3" y1="1108" x2="964.3" y2="1098" stroke="#1a1a1a" stroke-width="1.2" />
<text x="666" y="1098" font-size="23" text-anchor="start" font-weight="normal" fill="#1a1a1a" >12<tspan font-size="15.2" dy="-8.7">5</tspan></text>
<text x="703" y="1098" font-size="23" text-anchor="start" font-weight="normal" fill="#1a1a1a" >88<tspan font-size="15.2" dy="-8.7">5</tspan></text>
<text x="690.9" y="1123.5" font-size="23" text-anchor="start" font-weight="normal" fill="#1a1a1a" >2,01</text>
<text x="789" y="1100" font-size="18" text-anchor="start" font-weight="normal" fill="#1a1a1a" >Elt</text>
<text x="827.7" y="1098" font-size="23" text-anchor="start" font-weight="normal" fill="#1a1a1a" >2,25<tspan font-size="15.2" dy="-8.7">5</tspan></text>
<line x1="765.8" y1="1117" x2="852.8" y2="1117" stroke="#444" stroke-width="1.2" />
<line x1="765.8" y1="1126.6" x2="874.4" y2="1126.6" stroke="#444" stroke-width="1.2" />
<rect x="852.8" y="1110.3" width="65.3" height="14.9" fill="none" stroke="#333" stroke-width="1.2" stroke-dasharray="5 3"/>
<line x1="922.7" y1="1122.9" x2="973.2" y2="1122.9" stroke="#4a8ac8" stroke-width="1.6" />
<line x1="905.5" y1="1119.5" x2="990" y2="1147.6" stroke="#1a1a1a" stroke-width="1.1" />
<line x1="674" y1="1146.8" x2="753.6" y2="1146.8" stroke="#1a1a1a" stroke-width="1.1" />
<line x1="674.9" y1="1146.8" x2="674.9" y2="1227.6" stroke="#1a1a1a" stroke-width="1.1" />
<path d="M674.9,1227.6 A80,80 0 0 0 754.6,1147.6" fill="none" stroke="#222" stroke-width="1.1"/>
<line x1="739.3" y1="1146" x2="739.3" y2="1238.5" stroke="#1a1a1a" stroke-width="1.1" />
<line x1="730.8" y1="1146" x2="747.8" y2="1146" stroke="#1a1a1a" stroke-width="1.2" />
<line x1="734.3" y1="1141" x2="744.3" y2="1151" stroke="#1a1a1a" stroke-width="1.2" />
<line x1="730.8" y1="1238.5" x2="747.8" y2="1238.5" stroke="#1a1a1a" stroke-width="1.2" />
<line x1="734.3" y1="1233.5" x2="744.3" y2="1243.5" stroke="#1a1a1a" stroke-width="1.2" />
<text x="735.5" y="1192" font-size="23" text-anchor="middle" font-weight="normal" fill="#1a1a1a" transform="rotate(-90 735.5 1192)" >1,00<tspan font-size="15.2" dy="-8.7">5</tspan></text>
<line x1="781.8" y1="1164.9" x2="875.7" y2="1164.9" stroke="#9a9a9a" stroke-width="1.4" />
<path d="M814.5,1165.3 L814.5,1196 A18.35,18.6 0 0 0 851.2,1196 L851.2,1165.3" fill="none" stroke="#9a9a9a" stroke-width="1.4"/>
<path d="M818.4,1170 L818.4,1196 A14.9,14 0 0 0 848.2,1196 L848.2,1170 Z" fill="none" stroke="#9a9a9a" stroke-width="1.2"/>
<circle cx="832.9" cy="1174.5" r="3" fill="none" stroke="#9a9a9a" stroke-width="1"/>
<rect x="876.9" y="1147" width="80.7" height="80.2" fill="none" stroke="#9a9a9a" stroke-width="1.4" />
<circle cx="944.5" cy="1160" r="3" fill="none" stroke="#9a9a9a" stroke-width="1.1"/>
<line x1="930.8" y1="1164.9" x2="885.6" y2="1182.5" stroke="#9a9a9a" stroke-width="1.5" />
<line x1="935.3" y1="1168.8" x2="889.5" y2="1214.6" stroke="#9a9a9a" stroke-width="1.5" />
<line x1="939.9" y1="1173.3" x2="921.6" y2="1218.7" stroke="#9a9a9a" stroke-width="1.5" />
<line x1="944.5" y1="1227.2" x2="944.5" y2="1290.5" stroke="#9a9a9a" stroke-width="1.4" />
<line x1="895.7" y1="1252" x2="990" y2="1256" stroke="#1a1a1a" stroke-width="1.2" />
<path d="M943.4,1259.3 L925,1259.3 A14,20 0 0 0 925,1299.4 L943.4,1299.4" fill="none" stroke="#9a9a9a" stroke-width="1.4"/>
<circle cx="933.7" cy="1279.2" r="3" fill="none" stroke="#9a9a9a" stroke-width="1"/>
<path d="M939.7,1299 L939.7,1264 Q939.7,1262 937.5,1262 L926,1262" fill="none" stroke="#9a9a9a" stroke-width="1.2"/>
<line x1="855.8" y1="1121" x2="855.8" y2="1422" stroke="#48d648" stroke-width="1.6" stroke-dasharray="32 12 2 15" stroke-dashoffset="24.5"/>
<line x1="855.8" y1="1121" x2="855.8" y2="1170" stroke="#48d648" stroke-width="1.6" />
<line x1="867.3" y1="1121" x2="867.3" y2="1422" stroke="#7d2222" stroke-width="1.6" stroke-dasharray="32 12 2 15" stroke-dashoffset="19.5"/>
<line x1="867.3" y1="1121" x2="867.3" y2="1175" stroke="#7d2222" stroke-width="1.6" />
<line x1="926.9" y1="1305" x2="926.9" y2="1422" stroke="#b03030" stroke-width="1.6" stroke-dasharray="30 12 2 15"/>
<path d="M960.7,1315.0 L951.2,1324.5 L937.8,1324.5 L928.3,1315.0 L928.3,1301.6 L937.8,1292.1 L951.2,1292.1 L960.7,1301.6 Z" fill="none" stroke="#bbb" stroke-width="0.8"/>
<path d="M958.5,1314.1 L950.3,1322.3 L938.7,1322.3 L930.5,1314.1 L930.5,1302.5 L938.7,1294.3 L950.3,1294.3 L958.5,1302.5 Z" fill="#e03a2c" stroke="#fff" stroke-width="3"/>
<line x1="817.8" y1="1234" x2="817.8" y2="1335" stroke="#1a1a1a" stroke-width="1.1" />
<line x1="809.3" y1="1237.5" x2="826.3" y2="1237.5" stroke="#1a1a1a" stroke-width="1.2" />
<line x1="812.8" y1="1232.5" x2="822.8" y2="1242.5" stroke="#1a1a1a" stroke-width="1.2" />
<line x1="809.3" y1="1317.6" x2="826.3" y2="1317.6" stroke="#1a1a1a" stroke-width="1.2" />
<line x1="812.8" y1="1312.6" x2="822.8" y2="1322.6" stroke="#1a1a1a" stroke-width="1.2" />
<line x1="809.3" y1="1328.6" x2="826.3" y2="1328.6" stroke="#1a1a1a" stroke-width="1.2" />
<line x1="812.8" y1="1323.6" x2="822.8" y2="1333.6" stroke="#1a1a1a" stroke-width="1.2" />
<text x="814.5" y="1340" font-size="23" text-anchor="start" font-weight="normal" fill="#1a1a1a" transform="rotate(-90 814.5 1340)" >12<tspan font-size="15.2" dy="-8.7">5</tspan></text>
<text x="815" y="1295.5" font-size="23" text-anchor="start" font-weight="normal" fill="#1a1a1a" transform="rotate(-90 815 1295.5)" >88<tspan font-size="15.2" dy="-8.7">5</tspan></text>
<text x="840" y="1301.5" font-size="23" text-anchor="start" font-weight="normal" fill="#1a1a1a" transform="rotate(-90 840 1301.5)" >2,01</text>
<line x1="766.4" y1="1237" x2="766.4" y2="1317" stroke="#1a1a1a" stroke-width="1.1" />
<path d="M766.4,1237 A80,80 0 0 0 686.4,1317" fill="none" stroke="#222" stroke-width="1.1"/>
<line x1="686.4" y1="1317" x2="766.4" y2="1317" stroke="#1a1a1a" stroke-width="1.1" />
<line x1="110.4" y1="986.8" x2="110.4" y2="1050.4" stroke="#1a1a1a" stroke-width="1.1" />
<line x1="101.9" y1="986.8" x2="118.9" y2="986.8" stroke="#1a1a1a" stroke-width="1.2" />
<line x1="105.4" y1="981.8" x2="115.4" y2="991.8" stroke="#1a1a1a" stroke-width="1.2" />
<line x1="101.9" y1="1050.4" x2="118.9" y2="1050.4" stroke="#1a1a1a" stroke-width="1.2" />
<line x1="105.4" y1="1045.4" x2="115.4" y2="1055.4" stroke="#1a1a1a" stroke-width="1.2" />
<text x="106" y="1018.5" font-size="23" text-anchor="middle" font-weight="normal" fill="#1a1a1a" transform="rotate(-90 106 1018.5)" >70</text>
<line x1="290.6" y1="998" x2="370.4" y2="998" stroke="#1a1a1a" stroke-width="1.1" />
<line x1="371.2" y1="998" x2="371.2" y2="1078" stroke="#1a1a1a" stroke-width="1.1" />
<path d="M290.6,998 A80,80 0 0 0 370.4,1078" fill="none" stroke="#222" stroke-width="1.1"/>
<line x1="324.8" y1="980" x2="324.8" y2="1130.4" stroke="#1a1a1a" stroke-width="1.1" />
<line x1="316.3" y1="984" x2="333.3" y2="984" stroke="#1a1a1a" stroke-width="1.2" />
<line x1="319.8" y1="979" x2="329.8" y2="989" stroke="#1a1a1a" stroke-width="1.2" />
<line x1="316.3" y1="998" x2="333.3" y2="998" stroke="#1a1a1a" stroke-width="1.2" />
<line x1="319.8" y1="993" x2="329.8" y2="1003" stroke="#1a1a1a" stroke-width="1.2" />
<line x1="316.3" y1="1077.9" x2="333.3" y2="1077.9" stroke="#1a1a1a" stroke-width="1.2" />
<line x1="319.8" y1="1072.9" x2="329.8" y2="1082.9" stroke="#1a1a1a" stroke-width="1.2" />
<line x1="316.3" y1="1130.4" x2="333.3" y2="1130.4" stroke="#1a1a1a" stroke-width="1.2" />
<line x1="319.8" y1="1125.4" x2="329.8" y2="1135.4" stroke="#1a1a1a" stroke-width="1.2" />
<text x="321" y="1016.5" font-size="23" text-anchor="start" font-weight="normal" fill="#1a1a1a" transform="rotate(-90 321 1016.5)" >12<tspan font-size="15.2" dy="-8.7">5</tspan></text>
<text x="321" y="1067" font-size="23" text-anchor="start" font-weight="normal" fill="#1a1a1a" transform="rotate(-90 321 1067)" >88<tspan font-size="15.2" dy="-8.7">5</tspan></text>
<text x="321" y="1122" font-size="23" text-anchor="start" font-weight="normal" fill="#1a1a1a" transform="rotate(-90 321 1122)" >58<tspan font-size="15.2" dy="-8.7">5</tspan></text>
<text x="346" y="1072.5" font-size="23" text-anchor="start" font-weight="normal" fill="#1a1a1a" transform="rotate(-90 346 1072.5)" >2,01</text>
<line x1="289.3" y1="1130.4" x2="289.3" y2="1328" stroke="#1a1a1a" stroke-width="1.1" />
<line x1="280.8" y1="1130.4" x2="297.8" y2="1130.4" stroke="#1a1a1a" stroke-width="1.2" />
<line x1="284.3" y1="1125.4" x2="294.3" y2="1135.4" stroke="#1a1a1a" stroke-width="1.2" />
<line x1="280.8" y1="1326" x2="297.8" y2="1326" stroke="#1a1a1a" stroke-width="1.2" />
<line x1="284.3" y1="1321" x2="294.3" y2="1331" stroke="#1a1a1a" stroke-width="1.2" />
<text x="287" y="1257.6" font-size="23" text-anchor="start" font-weight="normal" fill="#1a1a1a" transform="rotate(-90 287 1257.6)" >2,18<tspan font-size="15.2" dy="-8.7">5</tspan></text>
<line x1="323.5" y1="1185.7" x2="392" y2="1185.7" stroke="#1a1a1a" stroke-width="1.1" />
<line x1="329.9" y1="1177.2" x2="329.9" y2="1194.2" stroke="#1a1a1a" stroke-width="1.2" />
<line x1="324.9" y1="1190.7" x2="334.9" y2="1180.7" stroke="#1a1a1a" stroke-width="1.2" />
<line x1="386.9" y1="1177.2" x2="386.9" y2="1194.2" stroke="#1a1a1a" stroke-width="1.2" />
<line x1="381.9" y1="1190.7" x2="391.9" y2="1180.7" stroke="#1a1a1a" stroke-width="1.2" />
<text x="340" y="1183" font-size="23" text-anchor="start" font-weight="normal" fill="#1a1a1a" >62<tspan font-size="15.2" dy="-8.7">5</tspan></text>
<line x1="423.7" y1="966" x2="423.7" y2="1368" stroke="#1a1a1a" stroke-width="1.1" />
<line x1="415.2" y1="971.4" x2="432.2" y2="971.4" stroke="#1a1a1a" stroke-width="1.2" />
<line x1="418.7" y1="966.4" x2="428.7" y2="976.4" stroke="#1a1a1a" stroke-width="1.2" />
<line x1="415.2" y1="1147.6" x2="432.2" y2="1147.6" stroke="#1a1a1a" stroke-width="1.2" />
<line x1="418.7" y1="1142.6" x2="428.7" y2="1152.6" stroke="#1a1a1a" stroke-width="1.2" />
<line x1="415.2" y1="1328" x2="432.2" y2="1328" stroke="#1a1a1a" stroke-width="1.2" />
<line x1="418.7" y1="1323" x2="428.7" y2="1333" stroke="#1a1a1a" stroke-width="1.2" />
<line x1="415.2" y1="1362" x2="432.2" y2="1362" stroke="#1a1a1a" stroke-width="1.2" />
<line x1="418.7" y1="1357" x2="428.7" y2="1367" stroke="#1a1a1a" stroke-width="1.2" />
<text x="419.4" y="1085.5" font-size="23" text-anchor="start" font-weight="normal" fill="#1a1a1a" transform="rotate(-90 419.4 1085.5)" >1,94<tspan font-size="15.2" dy="-8.7">5</tspan></text>
<text x="420.5" y="1260.3" font-size="23" text-anchor="start" font-weight="normal" fill="#1a1a1a" transform="rotate(-90 420.5 1260.3)" >2,01</text>
<text x="418.8" y="1362" font-size="23" text-anchor="start" font-weight="normal" fill="#1a1a1a" transform="rotate(-90 418.8 1362)" >36<tspan font-size="15.2" dy="-8.7">5</tspan></text>
<line x1="402" y1="1377.3" x2="632.5" y2="1377.3" stroke="#1a1a1a" stroke-width="1.2" />
<line x1="402" y1="1394.6" x2="633.3" y2="1394.6" stroke="#1a1a1a" stroke-width="1.2" />
<rect x="402" y="1377.3" width="5.5" height="5.8" fill="none" stroke="#1a1a1a" stroke-width="1.0" />
<rect x="627" y="1377.3" width="5.5" height="5.8" fill="none" stroke="#1a1a1a" stroke-width="1.0" />
<rect x="509.8" y="1377.3" width="13" height="7.7" fill="none" stroke="#1a1a1a" stroke-width="1.0" />
<line x1="517" y1="1374" x2="517" y2="1386" stroke="#1a1a1a" stroke-width="2.4" />
<line x1="407.8" y1="1277" x2="407.8" y2="1377.3" stroke="#1a1a1a" stroke-width="1.1" />
<path d="M407.8,1277 A103,100.3 0 0 1 510.8,1377.3" fill="none" stroke="#222" stroke-width="1.1"/>
<line x1="493.6" y1="1312" x2="493.6" y2="1377" stroke="#111" stroke-width="4.2" stroke-linecap="round"/>
<circle cx="493.6" cy="1388.3" r="2.4" fill="#111"/>
<line x1="493.6" y1="1404.5" x2="493.6" y2="1430" stroke="#111" stroke-width="4.2" stroke-linecap="round"/>
<line x1="470.5" y1="1394.6" x2="470.5" y2="1412" stroke="#1a1a1a" stroke-width="1.1" />
<circle cx="470.5" cy="1430" r="18" fill="#fff" stroke="#111" stroke-width="1.4"/>
<path d="M470.5,1430 L470.5,1412 A18,18 0 0 1 488.5,1430 Z" fill="#111"/>
<text x="497.5" y="1427" font-size="24" text-anchor="start" font-weight="normal" fill="#1a1a1a" >&#177;0,00</text>
<line x1="631.3" y1="1220" x2="631.3" y2="1400" stroke="#1a1a1a" stroke-width="1.1" />
<line x1="622.8" y1="1227" x2="639.8" y2="1227" stroke="#1a1a1a" stroke-width="1.2" />
<line x1="626.3" y1="1222" x2="636.3" y2="1232" stroke="#1a1a1a" stroke-width="1.2" />
<line x1="622.8" y1="1328" x2="639.8" y2="1328" stroke="#1a1a1a" stroke-width="1.2" />
<line x1="626.3" y1="1323" x2="636.3" y2="1333" stroke="#1a1a1a" stroke-width="1.2" />
<line x1="622.8" y1="1361.7" x2="639.8" y2="1361.7" stroke="#1a1a1a" stroke-width="1.2" />
<line x1="626.3" y1="1356.7" x2="636.3" y2="1366.7" stroke="#1a1a1a" stroke-width="1.2" />
<text x="629.4" y="1305.3" font-size="23" text-anchor="start" font-weight="normal" fill="#1a1a1a" transform="rotate(-90 629.4 1305.3)" >1,13<tspan font-size="15.2" dy="-8.7">5</tspan></text>
<text x="628.3" y="1362" font-size="23" text-anchor="start" font-weight="normal" fill="#1a1a1a" transform="rotate(-90 628.3 1362)" >36<tspan font-size="15.2" dy="-8.7">5</tspan></text>
<text x="657.5" y="1302" font-size="23.8" text-anchor="start" font-weight="normal" fill="#1a1a1a" transform="rotate(-90 657.5 1302)" >raum-</text>
<text x="680.5" y="1297.5" font-size="23.2" text-anchor="start" font-weight="normal" fill="#1a1a1a" transform="rotate(-90 680.5 1297.5)" >hoch</text>
<line x1="197.5" y1="1361.6" x2="197.5" y2="1422" stroke="#1a1a1a" stroke-width="1.1" />
<line x1="189.0" y1="1361" x2="206.0" y2="1361" stroke="#1a1a1a" stroke-width="1.2" />
<line x1="192.5" y1="1356" x2="202.5" y2="1366" stroke="#1a1a1a" stroke-width="1.2" />
<line x1="213.5" y1="1361.6" x2="213.5" y2="1422" stroke="#1a1a1a" stroke-width="1.1" />
<line x1="262.7" y1="1361.6" x2="262.7" y2="1422" stroke="#1a1a1a" stroke-width="1.1" />
<line x1="254.2" y1="1391.5" x2="271.2" y2="1391.5" stroke="#1a1a1a" stroke-width="1.2" />
<line x1="257.7" y1="1386.5" x2="267.7" y2="1396.5" stroke="#1a1a1a" stroke-width="1.2" />
<text x="259" y="1420" font-size="23" text-anchor="start" font-weight="normal" fill="#1a1a1a" transform="rotate(-90 259 1420)" >0,36<tspan font-size="15.2" dy="-8.7">5</tspan></text>
<line x1="291" y1="1361.6" x2="291" y2="1422" stroke="#1a1a1a" stroke-width="1.1" />
<line x1="62" y1="1411" x2="62" y2="1422" stroke="#1a1a1a" stroke-width="1.1" />
<line x1="628.2" y1="1394.6" x2="628.2" y2="1422" stroke="#1a1a1a" stroke-width="1.1" />
<line x1="619.7" y1="1394.6" x2="636.7" y2="1394.6" stroke="#1a1a1a" stroke-width="1.2" />
<line x1="623.2" y1="1389.6" x2="633.2" y2="1399.6" stroke="#1a1a1a" stroke-width="1.2" />
<line x1="660.7" y1="1394.6" x2="660.7" y2="1422" stroke="#1a1a1a" stroke-width="1.1" />
<text x="659" y="1422" font-size="23" text-anchor="start" font-weight="normal" fill="#1a1a1a" transform="rotate(-90 659 1422)" >40</text>
<line x1="744.9" y1="1361" x2="744.9" y2="1422" stroke="#1a1a1a" stroke-width="1.1" />
<line x1="770.3" y1="1361" x2="770.3" y2="1422" stroke="#1a1a1a" stroke-width="1.1" />
<text x="761.5" y="1422" font-size="23" text-anchor="start" font-weight="normal" fill="#1a1a1a" transform="rotate(-90 761.5 1422)" >96<tspan font-size="15.2" dy="-8.7">5</tspan></text>
<line x1="801.6" y1="1361" x2="801.6" y2="1422" stroke="#1a1a1a" stroke-width="1.1" />
<line x1="793.1" y1="1362" x2="810.1" y2="1362" stroke="#1a1a1a" stroke-width="1.2" />
<line x1="796.6" y1="1357" x2="806.6" y2="1367" stroke="#1a1a1a" stroke-width="1.2" />
<text x="793.5" y="1422" font-size="23" text-anchor="start" font-weight="normal" fill="#1a1a1a" transform="rotate(-90 793.5 1422)" >81<tspan font-size="15.2" dy="-8.7">5</tspan></text>
<line x1="821.2" y1="1361" x2="821.2" y2="1422" stroke="#1a1a1a" stroke-width="1.1" />
<circle cx="117" cy="537.5" r="9.3" fill="url(#rg)" stroke="#8a1010" stroke-width="0.8"/>
<circle cx="296.2" cy="537" r="9.3" fill="url(#rg)" stroke="#8a1010" stroke-width="0.8"/>
<circle cx="469.9" cy="537.5" r="9.3" fill="url(#rg)" stroke="#8a1010" stroke-width="0.8"/>
<circle cx="633.9" cy="535" r="9.3" fill="url(#rg)" stroke="#8a1010" stroke-width="0.8"/>
<circle cx="762.4" cy="536" r="8.8" fill="url(#rg)" stroke="#8a1010" stroke-width="0.8"/>
<circle cx="891.3" cy="535.6" r="9.3" fill="url(#rg)" stroke="#8a1010" stroke-width="0.8"/>
<circle cx="118.8" cy="708.2" r="9.3" fill="url(#rg)" stroke="#8a1010" stroke-width="0.8"/>
<circle cx="306.5" cy="707" r="9.3" fill="url(#rg)" stroke="#8a1010" stroke-width="0.8"/>
<circle cx="473.2" cy="711.5" r="9.3" fill="url(#rg)" stroke="#8a1010" stroke-width="0.8"/>
<circle cx="630.5" cy="716" r="8.3" fill="url(#rg)" stroke="#8a1010" stroke-width="0.8"/>
<circle cx="896.4" cy="724.5" r="8.3" fill="url(#rg)" stroke="#8a1010" stroke-width="0.8"/>
<circle cx="711.6" cy="823.2" r="8.3" fill="url(#rg)" stroke="#8a1010" stroke-width="0.8"/>
<circle cx="869.4" cy="824" r="8.3" fill="url(#rg)" stroke="#8a1010" stroke-width="0.8"/>
<circle cx="124.5" cy="900.6" r="9.3" fill="url(#rg)" stroke="#8a1010" stroke-width="0.8"/>
<circle cx="307.9" cy="902.3" r="9.3" fill="url(#rg)" stroke="#8a1010" stroke-width="0.8"/>
<circle cx="474.3" cy="902.3" r="9.3" fill="url(#rg)" stroke="#8a1010" stroke-width="0.8"/>
<circle cx="133.9" cy="1075.5" r="9.3" fill="url(#rg)" stroke="#8a1010" stroke-width="0.8"/>
<circle cx="250.3" cy="1076.5" r="9.3" fill="url(#rg)" stroke="#8a1010" stroke-width="0.8"/>
<circle cx="712" cy="1041" r="12.8" fill="url(#rg)" stroke="#8a1010" stroke-width="0.8"/>
<circle cx="868.5" cy="1042.6" r="11" fill="url(#rg)" stroke="#8a1010" stroke-width="0.8"/>
<circle cx="829.5" cy="1187.7" r="11" fill="url(#rg)" stroke="#8a1010" stroke-width="0.8"/>
<circle cx="714.4" cy="1235" r="11" fill="url(#rg)" stroke="#8a1010" stroke-width="0.8"/>
<circle cx="829.9" cy="1286" r="11" fill="url(#rg)" stroke="#8a1010" stroke-width="0.8"/>
<circle cx="135.5" cy="1248.6" r="9" fill="url(#rg)" stroke="#8a1010" stroke-width="0.8"/>
<circle cx="251" cy="1252" r="10" fill="url(#rg)" stroke="#8a1010" stroke-width="0.8"/>
</svg></body></html>
